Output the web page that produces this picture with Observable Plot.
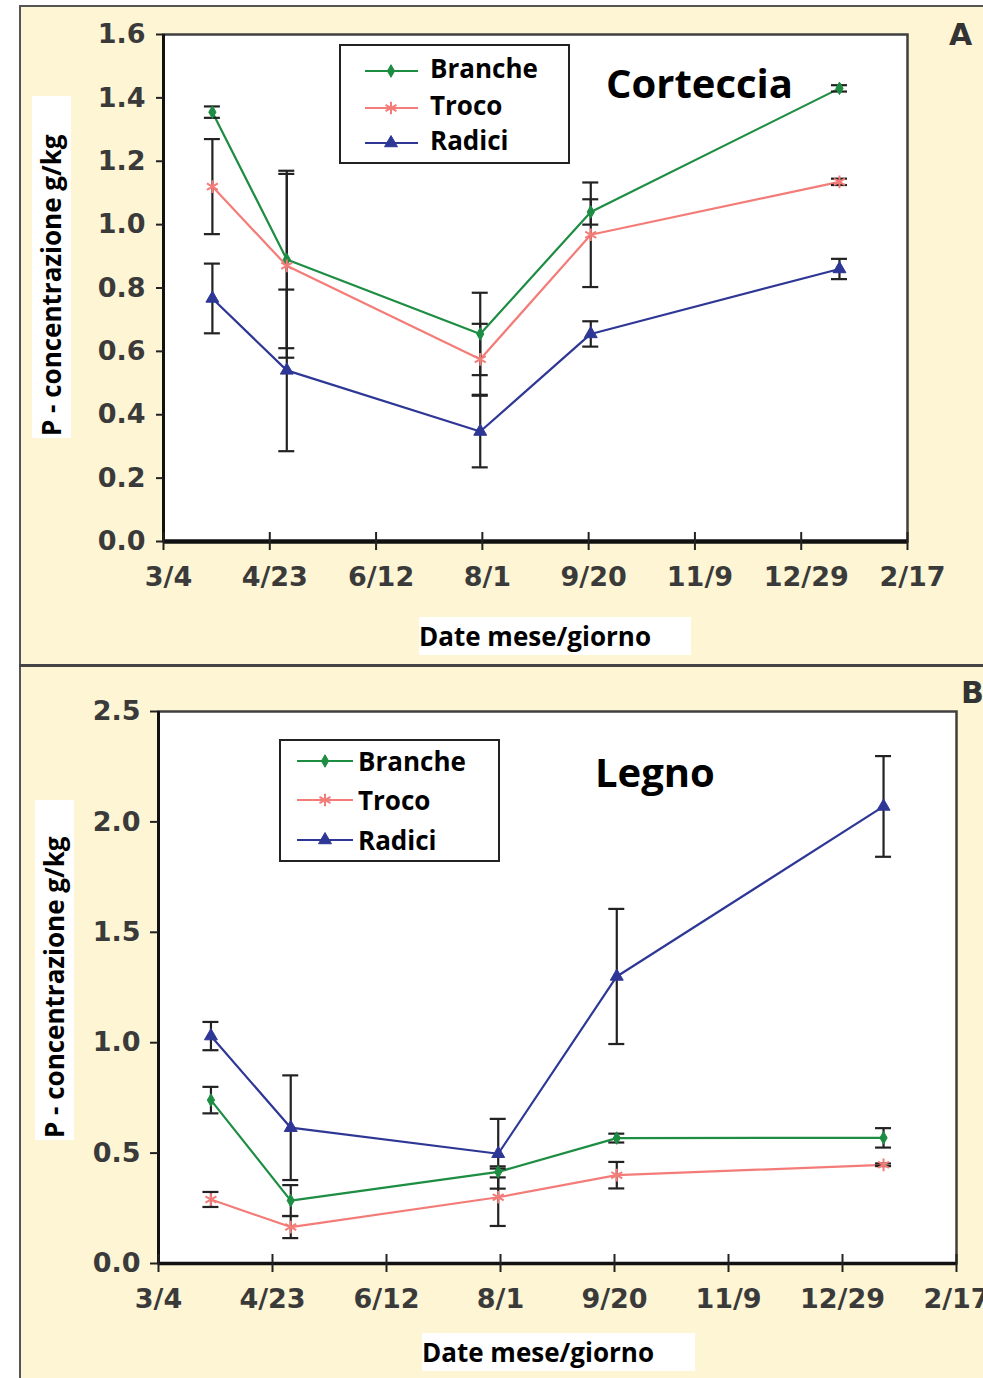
<!DOCTYPE html>
<html>
<head>
<meta charset="utf-8">
<script src="https://cdn.jsdelivr.net/npm/d3@7"></script>
<script src="https://cdn.jsdelivr.net/npm/@observablehq/plot@0.6"></script>
<style>
html, body { margin: 0; padding: 0; background: #ffffff; }
#page { position: relative; width: 983px; height: 1378px; overflow: hidden; background: #ffffff; }
#cream { position: absolute; left: 19px; top: 5px; width: 980px; height: 1390px; background: #fdf5d3;
  border-left: 2px solid #555; border-top: 2px solid #555; box-sizing: border-box; }
#sep { position: absolute; left: 19px; top: 664px; width: 970px; height: 3px; background: #444; }
.plotwrap { position: absolute; left: 0; }
.box { position: absolute; background: #fff; font-family: "Open Sans", sans-serif; font-weight: bold; color: #000; white-space: nowrap; }
.ylab { writing-mode: vertical-rl; transform: rotate(180deg); box-sizing: border-box; font-size: 26px; line-height: 39px; text-align: start; }
.xlab { font-size: 26px; line-height: 38px; box-sizing: border-box; }
.title { position: absolute; font-family: "Open Sans", sans-serif; font-weight: bold; font-size: 40px; line-height: 40px; color: #000; white-space: nowrap; }
.letter { position: absolute; font-family: "DejaVu Sans", sans-serif; font-weight: bold; font-size: 30px; line-height: 30px; color: #333; }
.legend { position: absolute; overflow: visible; }
</style>
</head>
<body>
<div id="page">
  <div id="cream"></div>
  <div id="sep"></div>
  <div id="top" class="plotwrap" style="top:0px"></div>
  <div id="bottom" class="plotwrap" style="top:665px"></div>

  <div class="box ylab" style="left:32px; top:96px; width:39px; height:342px; padding-top:2px;">P - concentrazione g/kg</div>
  <div class="box ylab" style="left:35px; top:800px; width:39px; height:340px; padding-top:2px;">P - concentrazione g/kg</div>
  <div class="box xlab" style="left:419px; top:617px; width:272px; height:38px;">Date mese/giorno</div>
  <div class="box xlab" style="left:422px; top:1333px; width:273px; height:38px;">Date mese/giorno</div>

  <div class="title" style="left:606px; top:63px;">Corteccia</div>
  <div class="title" style="left:595px; top:752px;">Legno</div>
  <div class="letter" style="left:949px; top:20px;">A</div>
  <div class="letter" style="left:961px; top:678px;">B</div>
</div>
<script>
// ---------------- data ----------------
const sampleDates = ["2005-03-27", "2005-05-01", "2005-07-31", "2005-09-21", "2006-01-16"];
const xTickDates = ["2005-03-04", "2005-04-23", "2005-06-12", "2005-08-01", "2005-09-20", "2005-11-09", "2005-12-29", "2006-02-17"];
const xTickLabels = ["3/4", "4/23", "6/12", "8/1", "9/20", "11/9", "12/29", "2/17"];

const seriesNames = ["Branche", "Troco", "Radici"];
const seriesColors = ["#1c8d42", "#f47c78", "#2e3795"];
const seriesSymbols = ["diamond", "asterisk", "triangle"];

// Panel A - Corteccia
const yTicksCorteccia = [0, 0.2, 0.4, 0.6, 0.8, 1.0, 1.2, 1.4, 1.6];
const brancheCorteccia = [1.355, 0.89, 0.655, 1.04, 1.43];
const brancheCortecciaErr = [0.018, 0.28, 0.13, 0.04, 0.01];
const trocoCorteccia = [1.12, 0.87, 0.575, 0.968, 1.135];
const trocoCortecciaErr = [0.15, 0.29, 0.112, 0.165, 0.01];
const radiciCorteccia = [0.767, 0.54, 0.347, 0.655, 0.86];
const radiciCortecciaErr = [0.11, 0.255, 0.113, 0.04, 0.032];

// Panel B - Legno
const yTicksLegno = [0, 0.5, 1.0, 1.5, 2.0, 2.5];
const brancheLegno = [0.74, 0.285, 0.415, 0.568, 0.569];
const brancheLegnoErr = [0.06, 0.07, 0.025, 0.02, 0.044];
const trocoLegno = [0.29, 0.165, 0.30, 0.40, 0.447];
const trocoLegnoErr = [0.034, 0.05, 0.13, 0.06, 0.006];
const radiciLegno = [1.03, 0.615, 0.497, 1.30, 2.07];
const radiciLegnoErr = [0.064, 0.237, 0.158, 0.306, 0.228];

// ---------------- helpers ----------------
const parse = d3.utcParse("%Y-%m-%d");
const dates = sampleDates.map(parse);
const ticks = xTickDates.map(parse);
const xDomain = [ticks[0], ticks[ticks.length - 1]];
const tickLabel = d => xTickLabels[ticks.findIndex(t => +t === +d)];

function rowsFor(values, errs) {
  return values.map((v, i) => ({date: dates[i], v, lo: v - errs[i], hi: v + errs[i]}));
}

const symbolR = {diamond: 3.8, asterisk: 6, triangle: 4.8};

function panel({series, yDomain, yTicks, height, margins, xLabelDx, yTickSize, yTickPadding, axisWidth}) {
  const marks = [
    Plot.frame({fill: "white"}),
    Plot.frame({stroke: "#3f3f3f", strokeWidth: 2.5}),
    Plot.ruleX([xDomain[0]], {stroke: "#111", strokeWidth: 3}),
    Plot.ruleY([0], {stroke: "#111", strokeWidth: axisWidth}),
    Plot.ruleX(ticks, {x: d => d, y1: 0, y2: 0, insetTop: 9, insetBottom: 9, stroke: "#222", strokeWidth: 2}),
    Plot.axisY({ticks: yTicks, tickSize: yTickSize, tickPadding: yTickPadding, tickFormat: d3.format(".1f"),
      label: null, fontSize: 27, fontWeight: "bold", fontFamily: "DejaVu Sans", fill: "#3a3a3a", stroke: "#222", strokeWidth: 2}),
    Plot.axisX({ticks: ticks, tickSize: 0, tickPadding: 25, tickFormat: tickLabel, label: null, dx: xLabelDx,
      fontSize: 27, fontWeight: "bold", fontFamily: "DejaVu Sans", fill: "#3a3a3a"})
  ];
  series.forEach((s, k) => {
    const rows = rowsFor(s.values, s.errs);
    marks.push(Plot.line(rows, {x: "date", y: "v", stroke: seriesColors[k], strokeWidth: 2.2}));
  });
  series.forEach((s, k) => {
    const rows = rowsFor(s.values, s.errs);
    marks.push(Plot.ruleX(rows, {x: "date", y1: "lo", y2: "hi", stroke: "#222", strokeWidth: 2.2}));
    marks.push(Plot.ruleY(rows, {y: "lo", x1: "date", x2: "date", insetLeft: -8, insetRight: -8, stroke: "#222", strokeWidth: 2.2}));
    marks.push(Plot.ruleY(rows, {y: "hi", x1: "date", x2: "date", insetLeft: -8, insetRight: -8, stroke: "#222", strokeWidth: 2.2}));
  });
  series.forEach((s, k) => {
    const rows = rowsFor(s.values, s.errs);
    const sym = seriesSymbols[k];
    marks.push(Plot.dot(rows, {x: "date", y: "v", symbol: sym, r: symbolR[sym],
      fill: seriesColors[k], stroke: seriesColors[k], strokeWidth: sym === "asterisk" ? 2 : 1}));
  });
  return Plot.plot({
    width: 983,
    height,
    ...margins,
    style: {background: "transparent", overflow: "visible"},
    x: {type: "utc", domain: xDomain},
    y: {domain: yDomain},
    marks
  });
}

const topPlot = panel({
  series: [
    {values: brancheCorteccia, errs: brancheCortecciaErr},
    {values: trocoCorteccia, errs: trocoCortecciaErr},
    {values: radiciCorteccia, errs: radiciCortecciaErr}
  ],
  yDomain: [0, 1.6], yTicks: yTicksCorteccia, height: 665,
  margins: {marginLeft: 163, marginRight: 76, marginTop: 34, marginBottom: 124},
  xLabelDx: 5, yTickSize: 7, yTickPadding: 11, axisWidth: 4.5
});
document.getElementById("top").appendChild(topPlot);

const bottomPlot = panel({
  series: [
    {values: brancheLegno, errs: brancheLegnoErr},
    {values: trocoLegno, errs: trocoLegnoErr},
    {values: radiciLegno, errs: radiciLegnoErr}
  ],
  yDomain: [0, 2.5], yTicks: yTicksLegno, height: 713,
  margins: {marginLeft: 158, marginRight: 27, marginTop: 46, marginBottom: 115},
  xLabelDx: 0, yTickSize: 8, yTickPadding: 10, axisWidth: 3.5
});
document.getElementById("bottom").appendChild(bottomPlot);

// ---------------- legends ----------------
const symbolTypes = {diamond: d3.symbolDiamond, asterisk: d3.symbolAsterisk, triangle: d3.symbolTriangle};
function legend({left, top, width, height, rowY, lineX1, lineX2, symX, textX, baseDy}) {
  const svg = d3.select("#page").append("svg")
    .attr("class", "legend")
    .attr("width", width).attr("height", height)
    .style("left", left + "px").style("top", top + "px");
  svg.append("rect").attr("x", 1).attr("y", 1).attr("width", width - 2).attr("height", height - 2)
    .attr("fill", "white").attr("stroke", "#222").attr("stroke-width", 2);
  seriesNames.forEach((name, k) => {
    const y = rowY[k];
    const sym = seriesSymbols[k];
    svg.append("line").attr("x1", lineX1).attr("x2", lineX2).attr("y1", y).attr("y2", y)
      .attr("stroke", seriesColors[k]).attr("stroke-width", 2.2);
    const r = symbolR[sym];
    svg.append("path").attr("transform", `translate(${symX},${y})`)
      .attr("d", d3.symbol(symbolTypes[sym], Math.PI * r * r)())
      .attr("fill", sym === "asterisk" ? "none" : seriesColors[k])
      .attr("stroke", seriesColors[k]).attr("stroke-width", sym === "asterisk" ? 2 : 1);
    svg.append("text").attr("x", textX).attr("y", y + baseDy)
      .attr("font-family", "Open Sans").attr("font-weight", "bold").attr("font-size", 26)
      .attr("fill", "#000").text(name);
  });
}
legend({left: 339, top: 44, width: 231, height: 120, rowY: [27, 64, 99], lineX1: 26, lineX2: 79, symX: 52, textX: 91, baseDy: 7});
legend({left: 279, top: 739, width: 221, height: 123, rowY: [22, 61, 101], lineX1: 18, lineX2: 74, symX: 46, textX: 79, baseDy: 10});
</script>
</body>
</html>
